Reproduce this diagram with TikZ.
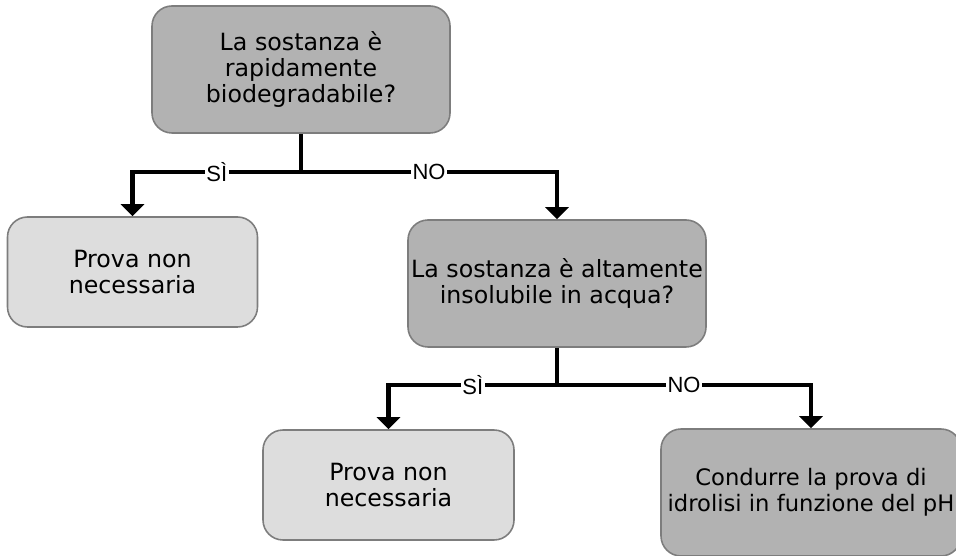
\documentclass[tikz,border=0pt]{standalone}
\usepackage{fontspec}
\setmainfont{DejaVu Sans}
\newfontfamily\labelfont{Liberation Sans}
\usetikzlibrary{arrows.meta, positioning, calc}
\definecolor{mydark}{RGB}{0,0,0}
\definecolor{myborder}{RGB}{125,125,125}
\definecolor{qgray}{RGB}{178,178,178}
\definecolor{agray}{RGB}{221,221,221}
\tikzset{
  question/.style={rectangle, draw=myborder, fill=qgray,
    minimum width=5.96cm, minimum height=2.54cm, align=center, inner xsep=0pt,
    font=\fontsize{13.5}{14.8}\selectfont, rounded corners=0.4cm, line width=0.9pt},
  answer/.style={rectangle, draw=myborder, fill=agray,
    minimum width=5cm, minimum height=2.2cm, align=center,
    font=\fontsize{13.5}{14.8}\selectfont, rounded corners=0.4cm, line width=0.9pt},
  arrow/.style={-{Triangle[width=0.46cm, length=0.24cm]}, line width=2.3pt, color=mydark},
  line/.style={line width=2.3pt, color=mydark},
  choice/.style={fill=white, inner sep=1pt, font=\labelfont\fontsize{12.5}{14}\selectfont}
}
\begin{document}
\begin{tikzpicture}
  \useasboundingbox (0,0) rectangle (19.12,11.12);

  % Question boxes
  \node[question] (bio) at (6.02, 9.73) {La sostanza è\\rapidamente\\biodegradabile?};
  \node[question] (insol) at (11.14, 5.45) {La sostanza è altamente\\insolubile in acqua?};

  % Answer boxes
  \node[answer] (skipA) at (2.65, 5.68) {Prova non\\necessaria};
  \node[answer, minimum width=5.02cm] (skipB) at (7.77, 1.42) {Prova non\\necessaria};
  \node[question, minimum width=6cm, font=\fontsize{12.9}{14.8}\selectfont] (hydro) at (16.22, 1.27) {Condurre la prova di\\idrolisi in funzione del pH\hspace{0.2cm}};

  % Branch points
  \coordinate (j1) at (6.02, 7.68);
  \coordinate (j2) at (11.14, 3.42);

  % First decision
  \draw[line] (bio.south) -- (j1);
  \draw[arrow] (j1) -| node[choice, pos=0.25] {SÌ} (skipA.north);
  \draw[arrow] (j1) -| node[choice, pos=0.25] {NO} (insol.north);

  % Second decision
  \draw[line] (insol.south) -- (j2);
  \draw[arrow] (j2) -| node[choice, pos=0.25] {SÌ} (skipB.north);
  \draw[arrow] (j2) -| node[choice, pos=0.25] {NO} (hydro.north);
\end{tikzpicture}
\end{document}
